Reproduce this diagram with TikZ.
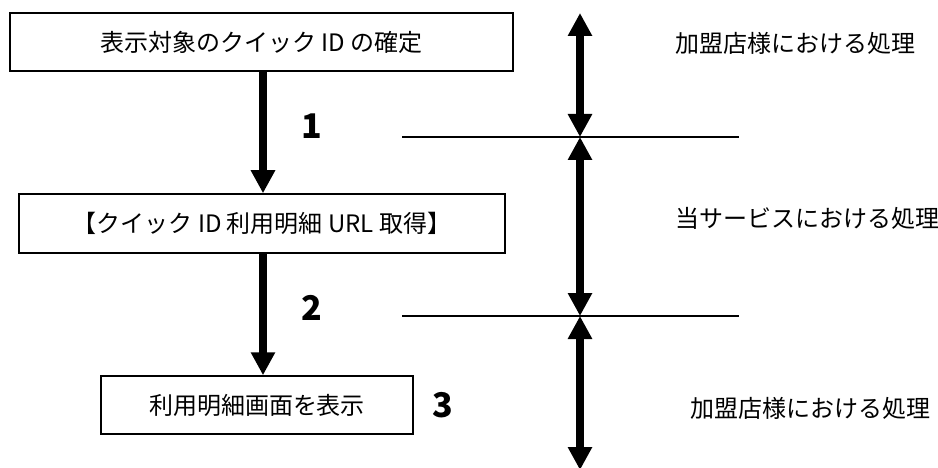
\documentclass[tikz,border=0pt]{standalone}
\usepackage{fontspec}
\setmainfont{Noto Sans CJK JP}
\usetikzlibrary{positioning,arrows.meta}
\tikzstyle{proc}=[rectangle, draw=black, line width=1.5pt, text centered, inner sep=0pt,
        font=\fontsize{24}{29}\selectfont]
\tikzstyle{num}=[font=\fontsize{34}{40}\selectfont\bfseries]
\tikzstyle{side}=[anchor=west, font=\fontsize{24}{29}\selectfont]
\tikzstyle{flow}=[line width=7.5pt, -{Triangle[width=23pt,length=23pt]}]
\tikzstyle{span}=[line width=7.5pt, {Triangle[width=23pt,length=23pt]}-{Triangle[width=23pt,length=23pt]}]
\tikzstyle{sep}=[line width=1.5pt]

\begin{document}
\begin{tikzpicture}[x=1pt,y=-1pt]
\useasboundingbox (0,0) rectangle (938,468);
% process boxes
\node[proc, minimum width=503pt, minimum height=58pt] (fix) at (261.5,42) {表示対象のクイック ID の確定};
\node[proc, minimum width=486pt, minimum height=59pt] (geturl) at (262,223.5) {【クイック ID 利用明細 URL 取得】};
\node[proc, minimum width=312pt, minimum height=58pt] (show) at (257,405) {利用明細画面を表示};
\coordinate (axis) at (263,0);
\draw[flow] (fix.south -| axis) -- (geturl.north -| axis);
\draw[flow] (geturl.south -| axis) -- (show.north -| axis);
\node[num] (n1) at (312,126) {1};
\node[num] (n2) at (312,308) {2};
\node[num] (n3) at (443,405) {3};
% borders between the parts
\coordinate (cut1l) at (402,137);
\coordinate (cut1r) at (739,137);
\coordinate (cut2l) at (402,316);
\coordinate (cut2r) at (739,316);
\draw[sep] (cut1l) -- (cut1r);
\draw[sep] (cut2l) -- (cut2r);
\coordinate (top) at (580,13);
\coordinate (m1) at (580,137);
\coordinate (m2) at (580,316);
\coordinate (bot) at (580,470);
\draw[span] (top) -- (m1);
\draw[span] (m1) -- (m2);
\draw[span] (m2) -- (bot);
\node[side] (shop1) at (672,43) {加盟店様における処理};
\node[side] (service) at (672,218) {当サービスにおける処理};
\node[side] (shop2) at (687,408) {加盟店様における処理};
\end{tikzpicture}
\end{document}
